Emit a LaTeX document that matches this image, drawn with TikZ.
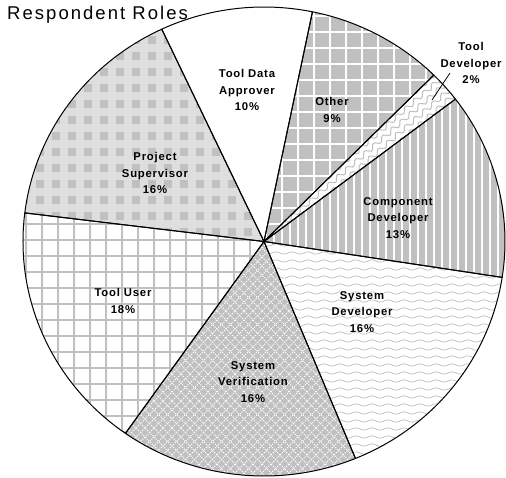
\documentclass[tikz,border=0pt]{standalone}
\usepackage{fontspec}
\setmainfont{Liberation Sans}
\newfontfamily\labelfont[LetterSpace=7]{Liberation Sans}
\newfontfamily\titlefont[LetterSpace=11]{Liberation Sans}
\usetikzlibrary{calc}

\definecolor{piegray}{HTML}{C0C0C0}
\definecolor{dither}{HTML}{DEDEDE}
\definecolor{wavegray}{HTML}{BEBEBE}

% one sector of the elliptical pie, centred at the origin
\newcommand{\pieslice}[2]{(0,0) -- (#1:241pt and 234.5pt) arc[start angle=#1, end angle=#2, x radius=241pt, y radius=234.5pt] -- cycle}

\tikzset{
  atcentre/.style={shift={(264pt,-241.5pt)}},
  pieline/.style={draw=black, line width=1pt, line join=round, atcentre},
  lbl/.style={font=\labelfont\bfseries\fontsize{11.3}{16.5}\selectfont, align=center, inner sep=0pt},
  charttitle/.style={font=\titlefont\fontsize{18.5}{21}\selectfont, inner sep=0pt, anchor=base west},
  leader/.style={draw=black, line width=0.8pt},
  gridline/.style={line width=2pt},
}

\begin{document}
\begin{tikzpicture}[x=1pt, y=1pt]
\useasboundingbox (0,0) rectangle (506,-477);
\fill[white] (0,0) rectangle (506,-477);

% Project Supervisor: dithered ground with solid gray blocks
\begin{scope}
  \clip[atcentre] \pieslice{115.1}{173};
  \fill[dither] (0,0) rectangle (270,-250);
  \foreach \i in {0,...,17}
    \foreach \j in {0,...,16}
      \fill[piegray] (4+16*\i,-4-16*\j) rectangle ++(8,-8);
\end{scope}

% Tool User: gray grid on white
\begin{scope}
  \clip[atcentre] \pieslice{173}{234.9};
  \foreach \k in {0,...,17}
    \draw[piegray, gridline] (10+16*\k,-200) -- ++(0,-280);
  \foreach \k in {12,...,30}
    \draw[piegray, gridline] (0,-16*\k) -- ++(280,0);
\end{scope}

% System Verification: gray with white dotted diamonds
\begin{scope}
  \clip[atcentre] \pieslice{234.9}{292.3};
  \fill[piegray] (100,-230) rectangle (380,-477);
  \foreach \k in {-28,...,32}
    \draw[white, line width=1pt, dash pattern=on 1.2pt off 1.2pt] (100+9*\k,-230) -- ++(250,-250);
  \foreach \k in {0,...,60}
    \draw[white, line width=1pt, dash pattern=on 1.2pt off 1.2pt] (100+9*\k,-230) -- ++(-250,-250);
\end{scope}

% System Developer: fine gray waves on white
\begin{scope}
  \clip[atcentre] \pieslice{292.3}{351.2};
  \foreach \r in {0,...,30}
    \draw[wavegray, line width=0.7pt] plot[domain=260:506, samples=100, smooth]
      (\x, {-245-8*\r+1.2*sin(\x*22.5)});
\end{scope}

% Component Developer: vertical stripes
\begin{scope}
  \clip[atcentre] \pieslice{-8.8}{37.4};
  \fill[piegray] (260,-90) rectangle (506,-290);
  \foreach \k in {0,...,31}
    \draw[white, line width=2.5pt] (266+8*\k,-90) -- ++(0,-200);
\end{scope}

% Tool Developer: light gray curls on white
\begin{scope}
  \clip[atcentre] \pieslice{37.4}{45.2};
  \begin{scope}[atcentre, rotate=41]
    \foreach \r in {-3,...,3}
      \draw[piegray, line width=1pt] plot[domain=0:245, samples=90, smooth]
        (\x, {7*\r+2.5*sin(\x*30)});
  \end{scope}
\end{scope}

% Other: white grid on gray
\begin{scope}
  \clip[atcentre] \pieslice{45.2}{78.4};
  \fill[piegray] (260,0) rectangle (460,-250);
  \foreach \k in {16,...,29}
    \draw[white, gridline] (10+16*\k,0) -- ++(0,-250);
  \foreach \k in {0,...,16}
    \draw[white, gridline] (260,-16*\k) -- ++(200,0);
\end{scope}

% sector outlines
\foreach \a/\b in {78.4/115.1, 115.1/173, 173/234.9, 234.9/292.3,
                   -67.7/-8.8, -8.8/37.4, 37.4/45.2, 45.2/78.4}
  \draw[pieline] \pieslice{\a}{\b};

% labels
\node[lbl] (tda)   at (247,-90)  {Tool Data\\Approver\\10\%};
\node[lbl] (oth)   at (332,-110) {Other\\9\%};
\node[lbl] (tdev)  at (471,-63)  {Tool\\Developer\\2\%};
\node[lbl] (cdev)  at (398,-218) {Component\\Developer\\13\%};
\node[lbl] (sdev)  at (362,-312) {System\\Developer\\16\%};
\node[lbl] (sver)  at (253,-382) {System\\Verification\\16\%};
\node[lbl] (tuser) at (123,-301) {Tool User\\18\%};
\node[lbl] (psup)  at (155,-173) {Project\\Supervisor\\16\%};

% leader line from the Tool Developer label into its sector
\coordinate (tdfoot) at (450,-73);
\coordinate (tdtip)  at (432,-100);
\draw[leader] (tdfoot) -- (tdtip);

\node[charttitle] (ttl) at (7,-19) {Respondent Roles};
\end{tikzpicture}
\end{document}
